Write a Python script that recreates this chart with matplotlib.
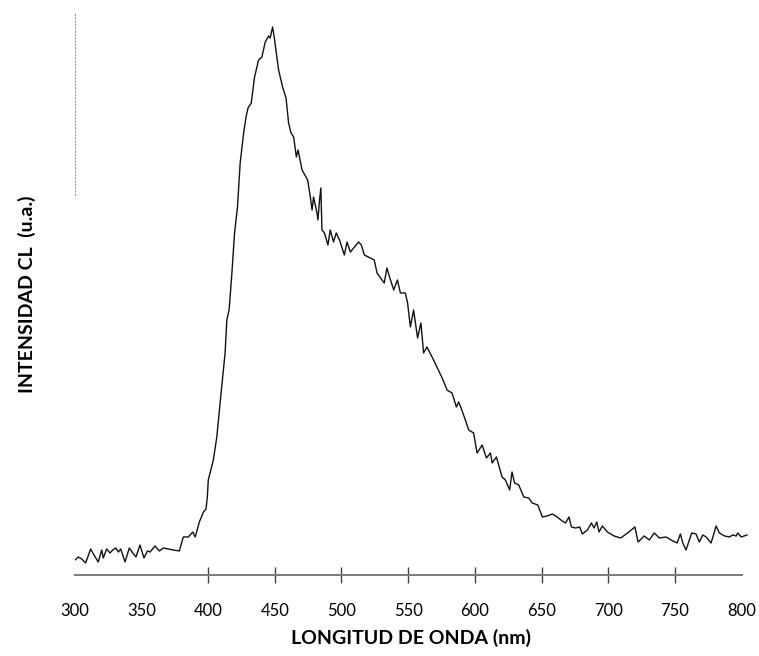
import matplotlib.pyplot as plt

# CL emission spectrum (arbitrary units)
wavelength = [
    300.3, 302.8, 305.3, 308.3, 312.0, 314.5, 317.7, 320.3, 321.5, 324.0,
    326.5, 328.6, 330.8, 332.8, 334.6, 337.8, 341.0, 343.6, 346.0, 349.0,
    352.0, 354.6, 356.6, 360.2, 363.6, 366.5, 370.3, 374.0, 378.5, 381.5,
    385.2, 388.6, 390.4, 393.5, 396.6, 398.5, 399.5, 400.2, 401.5, 404.0,
    406.6, 409.8, 412.8, 414.1, 415.8, 417.9, 419.9, 422.1, 424.1, 426.7,
    428.5, 430.0, 432.4, 434.9, 437.9, 440.4, 442.9, 445.4, 446.6, 448.4,
    449.4, 450.4, 452.9, 455.9, 458.5, 460.4, 462.2, 464.2, 466.2, 467.5,
    468.7, 470.5, 474.7, 476.7, 478.0, 479.1, 480.4, 481.7, 482.4, 483.6,
    484.6, 485.4, 487.3, 489.9, 491.6, 494.1, 496.1, 498.6, 502.2, 504.2,
    506.7, 509.2, 512.9, 514.9, 517.2, 521.6, 524.6, 526.7, 530.4, 532.1,
    534.1, 536.1, 539.2, 542.0, 544.2, 547.9, 549.6, 551.7, 554.1, 557.1,
    559.6, 561.6, 564.1, 569.1, 575.5, 579.2, 582.9, 586.2, 587.9, 589.7,
    592.9, 595.4, 599.1, 601.7, 605.5, 608.7, 611.7, 613.0, 616.2, 620.4,
    622.9, 626.1, 627.9, 629.8, 632.9, 636.7, 640.4, 643.0, 647.2, 650.6,
    654.3, 658.1, 661.8, 665.5, 668.0, 670.6, 672.4, 675.6, 678.6, 680.6,
    684.4, 687.4, 689.4, 691.4, 693.1, 695.6, 699.4, 704.4, 709.4, 714.5,
    720.0, 722.4, 727.0, 730.8, 734.5, 738.3, 743.3, 747.1, 751.6, 754.1,
    755.9, 758.3, 760.8, 762.6, 765.8, 768.3, 770.9, 773.4, 777.1, 780.9,
    783.3, 787.2, 790.9, 793.4, 795.9, 797.1, 799.7, 804.0,
]
intensity = [
    15, 18, 16, 12, 26, 20, 13, 25, 17, 26,
    22, 25, 27, 23, 26, 13, 27, 22, 18, 30,
    17, 24, 23, 29, 24, 27, 26, 25, 24, 38,
    38, 43, 38, 53, 63, 66, 78, 95, 102, 115,
    138, 182, 222, 255, 265, 302, 342, 368, 412, 442,
    458, 467, 472, 498, 515, 518, 533, 539, 537, 548,
    540, 530, 505, 488, 477, 452, 442, 438, 418, 425,
    417, 405, 395, 378, 365, 378, 370, 362, 355, 375,
    387, 345, 342, 330, 345, 333, 342, 335, 320, 333,
    323, 327, 333, 330, 320, 317, 315, 302, 295, 292,
    307, 298, 285, 295, 282, 282, 272, 248, 265, 237,
    252, 222, 228, 215, 197, 185, 182, 168, 173, 167,
    155, 145, 142, 122, 130, 117, 122, 112, 118, 98,
    95, 85, 103, 92, 90, 78, 77, 72, 70, 58,
    59, 61, 58, 54, 52, 58, 48, 47, 48, 41,
    45, 52, 47, 53, 43, 49, 43, 39, 37, 42,
    48, 33, 39, 35, 42, 37, 38, 35, 32, 41,
    32, 25, 35, 42, 41, 33, 40, 38, 32, 49,
    42, 39, 38, 40, 39, 42, 38, 40,
]
tick_values = [300, 350, 400, 450, 500, 550, 600, 650, 700, 750, 800]
plt.rcParams['font.family'] = ['Lato', 'DejaVu Sans']

fig = plt.figure(figsize=(7.59, 6.56), dpi=100)
ax = fig.add_axes([0.0983, 0.1235, 0.8876, 0.8567])

ax.plot(wavelength, intensity, color='#111111', linewidth=1.0)

ax.set_xlim(300, 805)
ax.set_ylim(0, 562)

for side in ['top', 'right']:
    ax.spines[side].set_visible(False)
ax.spines['bottom'].set_color('#7a7a7a')
ax.spines['bottom'].set_linewidth(1.4)
ax.spines['bottom'].set_bounds(300, 800)
ax.spines['left'].set_color('#9a9a9a')
ax.spines['left'].set_linewidth(0.8)
ax.spines['left'].set_linestyle((0, (1, 2)))
ax.spines['left'].set_bounds(380, 562)

ax.set_xticks(tick_values)
ax.set_xticklabels([str(v) for v in tick_values], fontsize=12)
ax.tick_params(axis='x', direction='inout', length=11, width=1.0,
               color='#444444', pad=15)
for tick, v in zip(ax.xaxis.get_major_ticks(), tick_values):
    if v in (300, 350, 800):
        tick.tick1line.set_visible(False)
ax.set_yticks([])

ax.set_xlabel('LONGITUD DE ONDA (nm)', fontsize=14, fontweight='bold', labelpad=7)
ax.set_ylabel('INTENSIDAD CL  (u.a.)', fontsize=14, fontweight='bold', labelpad=28)

fig.savefig('out.png', dpi=100)
